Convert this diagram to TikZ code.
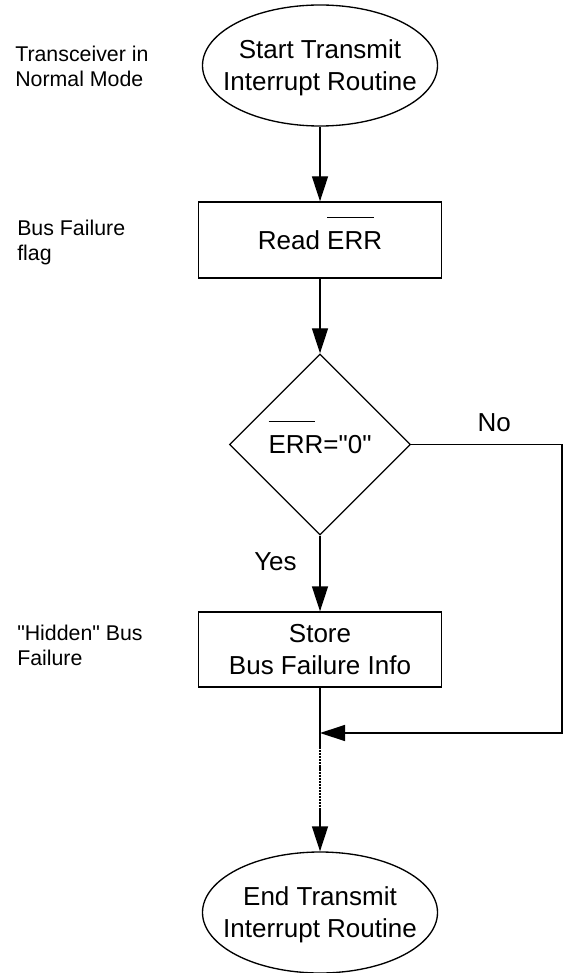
\documentclass[tikz,border=0pt]{standalone}
\usepackage{fontspec}
\setmainfont{Liberation Sans}[Ligatures=TeXOff]
\usetikzlibrary{shapes.geometric,arrows.meta}

% text sizes of the chart
\newcommand\flowfont{\fontsize{19.5pt}{24pt}\selectfont}
\newcommand\notesfont{\fontsize{16pt}{18.75pt}\selectfont}
% active-low signal name with a bar set well above it
\newcommand\errbar[1]{\makebox[0pt][l]{\smash{\rule[1.2em]{1.78em}{0.75pt}}}#1}

\begin{document}
\begin{tikzpicture}[x=0.75pt, y=-0.75pt,
  wire/.style={line width=1pt},
  flow/.style={wire, -{Triangle[length=18.75pt,width=12pt]}},
  terminal/.style={draw, line width=1pt, ellipse, minimum width=176.25pt,
    minimum height=90.75pt, inner sep=0pt},
  process/.style={draw, line width=1pt, rectangle, minimum width=182pt,
    inner sep=0pt, font=\flowfont, align=center},
  decision/.style={draw, line width=1pt, diamond, aspect=1,
    minimum width=135.75pt, minimum height=135.75pt, inner sep=0pt,
    font=\flowfont},
  maintext/.style={font=\flowfont, align=center, inner sep=0pt, text depth=0pt},
  sidenote/.style={font=\notesfont, align=left, anchor=north west, inner sep=0pt},
  branch/.style={font=\flowfont, inner sep=0pt},
]
\useasboundingbox (0,0) rectangle (567,973);

% flow chart boxes
\node[terminal] (start) at (320,65.5) {};
\node[maintext] (starttext) at (start.center) {Start Transmit\\Interrupt Routine};
\node[process, minimum height=57pt] (read) at (320,240) {Read \errbar{ERR}};
\node[decision] (test) at (320,444.5) {\errbar{ERR}="0"};
\node[process, minimum height=56.25pt] (store) at (320,649.5) {Store\\Bus Failure Info};
\node[terminal] (finish) at (320,912.5) {};
\node[maintext] (finishtext) at (finish.center) {End Transmit\\Interrupt Routine};

% notes in the left margin
\node[sidenote] (note1) at (15,45.5) {Transceiver in\\Normal Mode};
\node[sidenote] (note2) at (17,219.5) {Bus Failure\\flag};
\node[sidenote] (note3) at (17,624.5) {"Hidden" Bus\\Failure};

% bends of the "No" branch and the merge point
\coordinate (noturn) at (562,444.5);
\coordinate (noback) at (562,733);
\coordinate (join) at (320,733);
\coordinate (dotstart) at (320,747);
\coordinate (dotend) at (320,808);

% connectors
\draw[flow] (start) -- (read);
\draw[flow] (read) -- (test);
\draw[flow] (test) -- node[branch, pos=0.35, left=17pt] (yes) {Yes} (store);
\draw[flow] (test.east) -- node[branch, pos=0.55, above=9pt] (no) {No} (noturn)
  -- (noback) -- (join);
\draw[wire] (store) -- (dotstart);
\draw[line width=1.4pt, dash pattern=on 1.6pt off 0.7pt] (dotstart) -- (dotend);
\draw[flow] (dotend) -- (finish);
\end{tikzpicture}
\end{document}
